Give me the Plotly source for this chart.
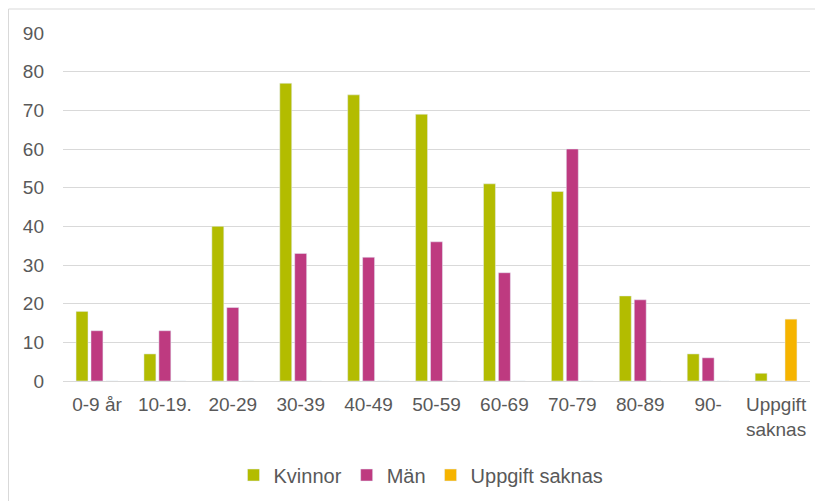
import plotly.graph_objects as go

categories = ["0-9 år", "10-19.", "20-29", "30-39", "40-49", "50-59", "60-69",
              "70-79", "80-89", "90-", "Uppgift<br>saknas"]
kvinnor = [18, 7, 40, 77, 74, 69, 51, 49, 22, 7, 2]
man = [13, 13, 19, 33, 32, 36, 28, 60, 21, 6, 0]
uppgift = [0, 0, 0, 0, 0, 0, 0, 0, 0, 0, 16]
y_ticks = [0, 10, 20, 30, 40, 50, 60, 70, 80, 90]

W, H = 815, 493
L, R, T, B = 55, 13, 25, 120
PW, PH = W - L - R, H - T - B

fig = go.Figure()
fig.add_trace(go.Bar(name="Kvinnor", x=categories, y=kvinnor, marker_color="#B3BC00"))
fig.add_trace(go.Bar(name="Män", x=categories, y=man, marker_color="#BE3A80"))
fig.add_trace(go.Bar(name="Uppgift saknas", x=categories, y=uppgift, marker_color="#F6B400"))

fig.update_layout(
    width=W, height=H,
    margin=dict(l=L, r=R, t=T, b=B, autoexpand=False),
    barmode="group", bargap=0.34, bargroupgap=0.2,
    paper_bgcolor="white", plot_bgcolor="white",
    font=dict(family="Liberation Sans, Arial, sans-serif", size=19, color="#595959"),
    showlegend=True,
    legend=dict(orientation="h", x=(421 - 8 - L) / PW, xanchor="center",
                y=(T + PH - (475 - 8)) / PH, yanchor="middle",
                font=dict(size=20, color="#595959"), itemclick=False, itemwidth=30),
    shapes=[dict(type="rect", xref="paper", yref="paper",
                 x0=-(L - 0.5) / PW, x1=1 + (R + 20) / PW,
                 y0=-(B + 20) / PH, y1=1 + (T - 1) / PH,
                 line=dict(color="#d9d9d9", width=1), fillcolor="rgba(0,0,0,0)", layer="below")],
)
fig.update_xaxes(showline=False, showgrid=False, ticks="", ticklabelstandoff=10,
                 tickfont=dict(size=19), automargin=False)
fig.update_yaxes(range=[0, 90], tickvals=y_ticks, showgrid=True, gridcolor="#d9d9d9",
                 gridwidth=1, zeroline=True, zerolinecolor="#d9d9d9", zerolinewidth=1,
                 showline=False, ticks="", ticklabelstandoff=18, tickfont=dict(size=19),
                 automargin=False)

fig.write_html("out.html")
